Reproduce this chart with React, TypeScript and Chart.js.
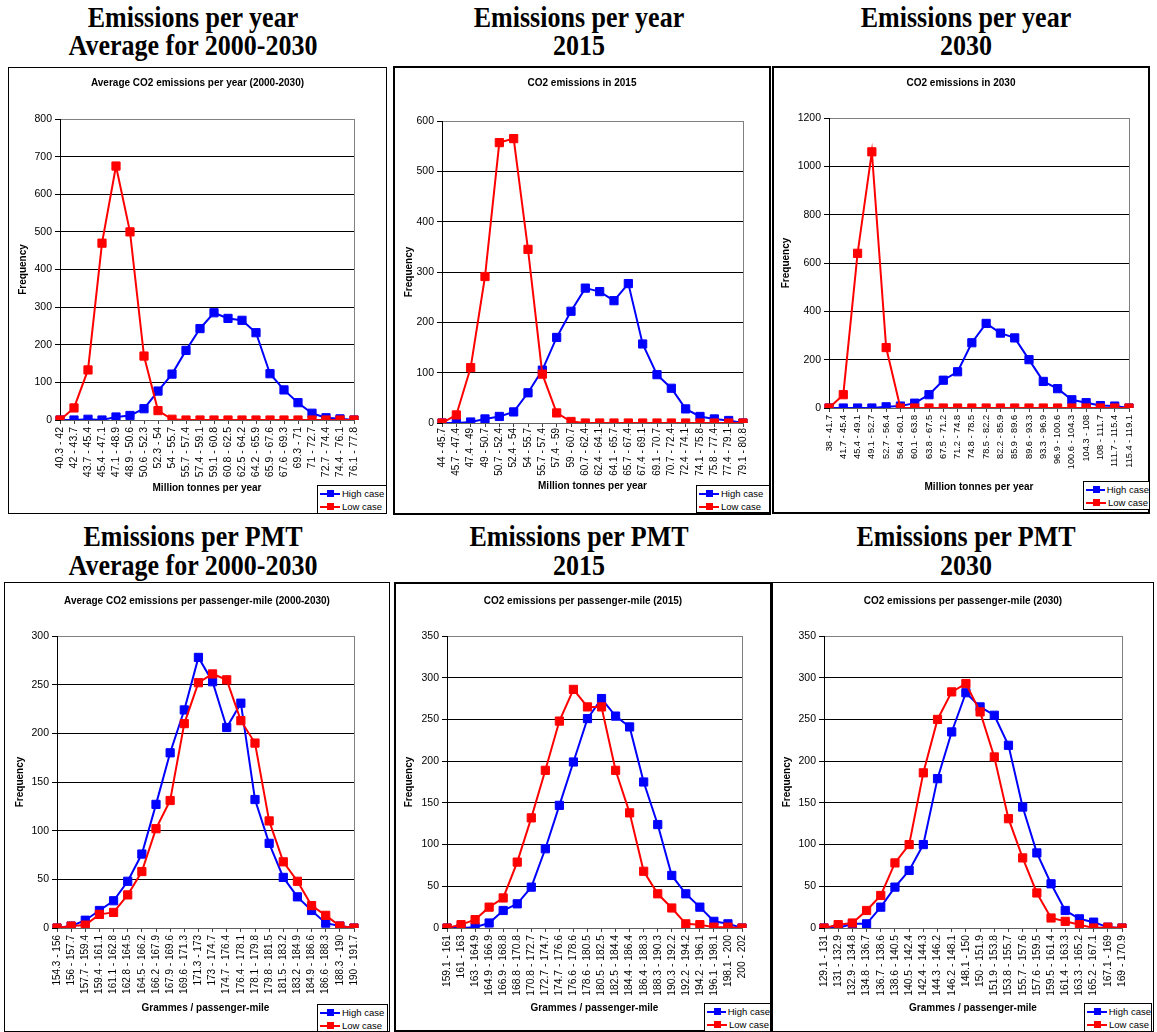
import React, { useEffect, useRef } from "react";
import { Chart, registerables } from "chart.js";

Chart.register(...registerables);

// ---------- DATA ----------
const yearAvgBins = ["40.3 - 42","42 - 43.7","43.7 - 45.4","45.4 - 47.1","47.1 - 48.9","48.9 - 50.6","50.6 - 52.3","52.3 - 54","54 - 55.7","55.7 - 57.4","57.4 - 59.1","59.1 - 60.8","60.8 - 62.5","62.5 - 64.2","64.2 - 65.9","65.9 - 67.6","67.6 - 69.3","69.3 - 71","71 - 72.7","72.7 - 74.4","74.4 - 76.1","76.1 - 77.8"];
const highYearAvg = [0,0,2,0,8,12,30,77,122,185,243,285,270,265,232,123,80,46,18,6,3,0];
const lowYearAvg = [0,32,133,470,675,500,170,25,2,0,0,0,0,0,0,0,0,0,0,0,0,0];

const year2015Bins = ["44 - 45.7","45.7 - 47.4","47.4 - 49","49 - 50.7","50.7 - 52.4","52.4 - 54","54 - 55.7","55.7 - 57.4","57.4 - 59","59 - 60.7","60.7 - 62.4","62.4 - 64.1","64.1 - 65.7","65.7 - 67.4","67.4 - 69.1","69.1 - 70.7","70.7 - 72.4","72.4 - 74.1","74.1 - 75.8","75.8 - 77.4","77.4 - 79.1","79.1 - 80.8"];
const high2015 = [0,0,2,8,13,22,60,105,170,222,268,261,243,277,157,96,69,28,13,8,5,0];
const low2015 = [0,16,110,291,557,565,345,97,20,3,0,0,0,0,0,0,0,0,0,0,0,0];

const year2030Bins = ["38 - 41.7","41.7 - 45.4","45.4 - 49.1","49.1 - 52.7","52.7 - 56.4","56.4 - 60.1","60.1 - 63.8","63.8 - 67.5","67.5 - 71.2","71.2 - 74.8","74.8 - 78.5","78.5 - 82.2","82.2 - 85.9","85.9 - 89.6","89.6 - 93.3","93.3 - 96.9","96.9 - 100.6","100.6 - 104.3","104.3 - 108","108 - 111.7","111.7 - 115.4","115.4 - 119.1"];
const high2030 = [0,0,0,0,5,8,20,55,115,150,270,350,310,290,200,110,80,34,22,10,8,0];
const low2030 = [0,55,640,1060,250,0,0,0,0,0,0,0,0,0,0,0,0,0,0,0,0,0];

const pmtAvgBins = ["154.3 - 156","156 - 157.7","157.7 - 159.4","159.4 - 161.1","161.1 - 162.8","162.8 - 164.5","164.5 - 166.2","166.2 - 167.9","167.9 - 169.6","169.6 - 171.3","171.3 - 173","173 - 174.7","174.7 - 176.4","176.4 - 178.1","178.1 - 179.8","179.8 - 181.5","181.5 - 183.2","183.2 - 184.9","184.9 - 186.6","186.6 - 188.3","188.3 - 190","190 - 191.7"];
const highPmtAvg = [0,2,8,18,28,48,76,127,180,224,278,253,206,231,132,87,52,32,18,5,2,0];
const lowPmtAvg = [0,2,3,14,16,34,58,102,131,210,252,261,255,213,190,110,68,48,23,13,2,0];

const pmt2015Bins = ["159.1 - 161","161 - 163","163 - 164.9","164.9 - 166.9","166.9 - 168.8","168.8 - 170.8","170.8 - 172.7","172.7 - 174.7","174.7 - 176.6","176.6 - 178.6","178.6 - 180.5","180.5 - 182.5","182.5 - 184.4","184.4 - 186.4","186.4 - 188.3","188.3 - 190.3","190.3 - 192.2","192.2 - 194.2","194.2 - 196.1","196.1 - 198.1","198.1 - 200","200 - 202"];
const highPmt2015 = [0,0,1,6,21,29,49,95,147,199,251,275,254,241,175,124,63,41,25,8,5,0];
const lowPmt2015 = [0,4,10,25,36,79,132,189,248,286,265,265,189,138,68,41,24,5,4,1,1,0];

const pmt2030Bins = ["129.1 - 131","131 - 132.9","132.9 - 134.8","134.8 - 136.7","136.7 - 138.6","138.6 - 140.5","140.5 - 142.4","142.4 - 144.3","144.3 - 146.2","146.2 - 148.1","148.1 - 150","150 - 151.9","151.9 - 153.8","153.8 - 155.7","155.7 - 157.6","157.6 - 159.5","159.5 - 161.4","161.4 - 163.3","163.3 - 165.2","165.2 - 167.1","167.1 - 169","169 - 170.9"];
const highPmt2030 = [0,0,5,5,25,49,69,100,179,235,282,265,255,219,145,90,53,21,11,7,1,0];
const lowPmt2030 = [0,4,6,21,39,78,100,186,250,283,293,259,205,131,84,42,12,8,4,0,1,0];

const seriesNames = ["High case", "Low case"];
const yearAxisTitle = "Million tonnes per year";
const pmtAxisTitle = "Grammes / passenger-mile";
const freqTitle = "Frequency";

const headers = [
  { lines: ["Emissions per year", "Average for 2000-2030"], cx: 193, cy: [18, 46] },
  { lines: ["Emissions per year", "2015"], cx: 579, cy: [18, 46] },
  { lines: ["Emissions per year", "2030"], cx: 966, cy: [18, 46] },
  { lines: ["Emissions per PMT", "Average for 2000-2030"], cx: 193, cy: [537, 566] },
  { lines: ["Emissions per PMT", "2015"], cx: 579, cy: [537, 566] },
  { lines: ["Emissions per PMT", "2030"], cx: 966, cy: [537, 566] },
];

// ---------- LAYOUT ----------
type Spec = {
  title: string; xTitle: string; labels: string[]; high: number[]; low: number[];
  yMax: number; yStep: number;
  box: number[]; plot: number[]; yTitleX: number; xTitleY: number; titleY: number;
  legend: number[]; border: number; xFont: number; xPad: number;
};

const specs: Spec[] = [
  { title: "Average CO2 emissions per year (2000-2030)", xTitle: yearAxisTitle, labels: yearAvgBins, high: highYearAvg, low: lowYearAvg, yMax: 800, yStep: 100,
    box: [8, 67, 379, 447], plot: [60, 119, 354, 420], yTitleX: 23, xTitleY: 488, titleY: 84, legend: [317, 485, 70, 29], border: 1, xFont: 10.5, xPad: 3 },
  { title: "CO2 emissions in 2015", xTitle: yearAxisTitle, labels: year2015Bins, high: high2015, low: low2015, yMax: 600, yStep: 100,
    box: [393, 66, 378, 449], plot: [442, 121, 743, 423], yTitleX: 409, xTitleY: 486, titleY: 84, legend: [696, 485, 74, 28], border: 2, xFont: 10, xPad: 1 },
  { title: "CO2 emissions in 2030", xTitle: yearAxisTitle, labels: year2030Bins, high: high2030, low: low2030, yMax: 1200, yStep: 200,
    box: [772, 66, 378, 448], plot: [829, 118, 1129, 408], yTitleX: 786, xTitleY: 487, titleY: 84, legend: [1083, 481, 67, 29], border: 2, xFont: 9.2, xPad: 3 },
  { title: "Average CO2 emissions per passenger-mile (2000-2030)", xTitle: pmtAxisTitle, labels: pmtAvgBins, high: highPmtAvg, low: lowPmtAvg, yMax: 300, yStep: 50,
    box: [4, 582, 386, 450], plot: [57, 636, 354, 928], yTitleX: 20, xTitleY: 1008, titleY: 602, legend: [317, 1004, 71, 28], border: 1, xFont: 10, xPad: 3 },
  { title: "CO2 emissions per passenger-mile (2015)", xTitle: pmtAxisTitle, labels: pmt2015Bins, high: highPmt2015, low: lowPmt2015, yMax: 350, yStep: 50,
    box: [394, 582, 378, 450], plot: [447, 636, 742, 928], yTitleX: 409, xTitleY: 1008, titleY: 602, legend: [704, 1003, 67, 29], border: 2, xFont: 10.3, xPad: 3 },
  { title: "CO2 emissions per passenger-mile (2030)", xTitle: pmtAxisTitle, labels: pmt2030Bins, high: highPmt2030, low: lowPmt2030, yMax: 350, yStep: 50,
    box: [772, 582, 382, 450], plot: [824, 636, 1122, 928], yTitleX: 787, xTitleY: 1008, titleY: 602, legend: [1084, 1003, 68, 29], border: 1, xFont: 10.3, xPad: 3 },
];

const SANS = '"Liberation Sans", Arial, Helvetica, sans-serif';
const SERIF = '"Liberation Serif", "Times New Roman", serif';
const BLUE = "#0000FF";
const RED = "#FF0000";

const framePlugin = {
  id: "plotFrame",
  beforeDatasetsDraw(chart: any) {
    const { ctx, chartArea } = chart;
    ctx.save();
    ctx.strokeStyle = "#808080";
    ctx.lineWidth = 1;
    const x = Math.round(chartArea.right) + 0.5;
    ctx.beginPath();
    ctx.moveTo(x, chartArea.top);
    ctx.lineTo(x, chartArea.bottom);
    ctx.stroke();
    ctx.restore();
  },
};

function ChartPanel({ spec }: { spec: Spec }) {
  const ref = useRef<HTMLCanvasElement | null>(null);
  useEffect(() => {
    if (!ref.current) return;
    const [bx, by, bw, bh] = spec.box;
    const [pl, pt, pr, pb] = spec.plot;
    const lh = 12;
    const padLeft = spec.yTitleX - bx - lh / 2;
    const yW = pl - bx - padLeft;
    const padTop = pt - by;
    const padRight = bx + bw - pr;
    const xScaleBottom = spec.xTitleY + lh / 2;
    const xH = xScaleBottom - pb;
    const padBottom = by + bh - xScaleBottom;
    const point = { pointStyle: "rect", pointRadius: 5.8, pointHoverRadius: 5.8, pointBorderWidth: 1, borderWidth: 2, tension: 0 };
    const chart = new Chart(ref.current, {
      type: "line",
      data: {
        labels: spec.labels,
        datasets: [
          { label: seriesNames[0], data: spec.high, borderColor: BLUE, backgroundColor: BLUE, pointBackgroundColor: BLUE, pointBorderColor: BLUE, order: 1, ...point } as any,
          { label: seriesNames[1], data: spec.low, borderColor: RED, backgroundColor: RED, pointBackgroundColor: RED, pointBorderColor: RED, order: 0, ...point } as any,
        ],
      },
      options: {
        responsive: false,
        animation: false,
        devicePixelRatio: 1,
        layout: { padding: { left: padLeft, right: padRight, top: padTop, bottom: padBottom } },
        plugins: { legend: { display: false }, title: { display: false }, tooltip: { enabled: false } },
        scales: {
          x: {
            offset: false,
            grid: { display: true, drawOnChartArea: false, drawTicks: true, tickLength: 4, color: "#404040", tickColor: "#404040" },
            border: { display: true, color: "#606060", width: 1 },
            ticks: { autoSkip: false, minRotation: 90, maxRotation: 90, padding: spec.xPad, color: "#000", font: { family: SANS, size: spec.xFont } },
            title: { display: true, text: spec.xTitle, color: "#000", font: { family: SANS, size: 10, weight: "bold" }, padding: 0 },
            afterFit: (s: any) => { s.height = xH; },
          },
          y: {
            min: 0,
            max: spec.yMax,
            ticks: { stepSize: spec.yStep, padding: 3, color: "#000", font: { family: SANS, size: 10.5 }, callback: (v: any) => String(v) },
            grid: {
              color: (c: any) => (c.tick && c.tick.value === spec.yMax ? "#808080" : "#000"),
              tickColor: "#000",
              tickLength: 5,
              lineWidth: 1,
            },
            border: { display: true, color: "#000", width: 1 },
            title: { display: true, text: freqTitle, color: "#000", font: { family: SANS, size: 10, weight: "bold" }, padding: 0 },
            afterFit: (s: any) => { s.width = yW; },
          },
        },
      } as any,
      plugins: [framePlugin],
    });
    return () => chart.destroy();
  }, [spec]);

  const [bx, by, bw, bh] = spec.box;
  const [lx, ly, lw, lhgt] = spec.legend;
  return (
    <>
      <canvas ref={ref} width={bw} height={bh} style={{ position: "absolute", left: bx, top: by, width: bw, height: bh, display: "block" }} />
      <div style={{ position: "absolute", left: bx, top: by, width: bw, height: bh, boxSizing: "border-box", border: `${spec.border}px solid #000`, pointerEvents: "none" }} />
      <div style={{ position: "absolute", left: bx, width: bw, top: spec.titleY - 7, height: 14, lineHeight: "14px", textAlign: "center", font: `bold 10px ${SANS}`, color: "#000" }}>
        {spec.title}
      </div>
      <div style={{ position: "absolute", left: lx, top: ly, width: lw, height: lhgt, boxSizing: "border-box", border: "1px solid #000", background: "#fff", paddingTop: 1 }}>
        {[BLUE, RED].map((c, i) => (
          <div key={i} style={{ display: "flex", alignItems: "center", height: 13, paddingLeft: 2 }}>
            <div style={{ position: "relative", width: 20, height: 2, background: c, marginRight: 2 }}>
              <div style={{ position: "absolute", left: 7, top: -3, width: 7, height: 7, background: c }} />
            </div>
            <span style={{ font: `9.5px ${SANS}`, color: "#000", whiteSpace: "nowrap" }}>{seriesNames[i]}</span>
          </div>
        ))}
      </div>
    </>
  );
}

export default function App() {
  return (
    <div style={{ position: "absolute", left: 0, top: 0, width: 1157, height: 1032, background: "#fff", overflow: "hidden" }}>
      {headers.map((h, i) =>
        h.lines.map((t, j) => (
          <div key={`${i}-${j}`} style={{ position: "absolute", left: h.cx - 200, width: 400, top: h.cy[j] - 15, height: 30, lineHeight: "30px", textAlign: "center", font: `bold 26px ${SERIF}`, color: "#000", whiteSpace: "nowrap", transform: "scaleY(1.1)" }}>
            {t}
          </div>
        ))
      )}
      {specs.map((s, i) => (
        <ChartPanel key={i} spec={s} />
      ))}
    </div>
  );
}
